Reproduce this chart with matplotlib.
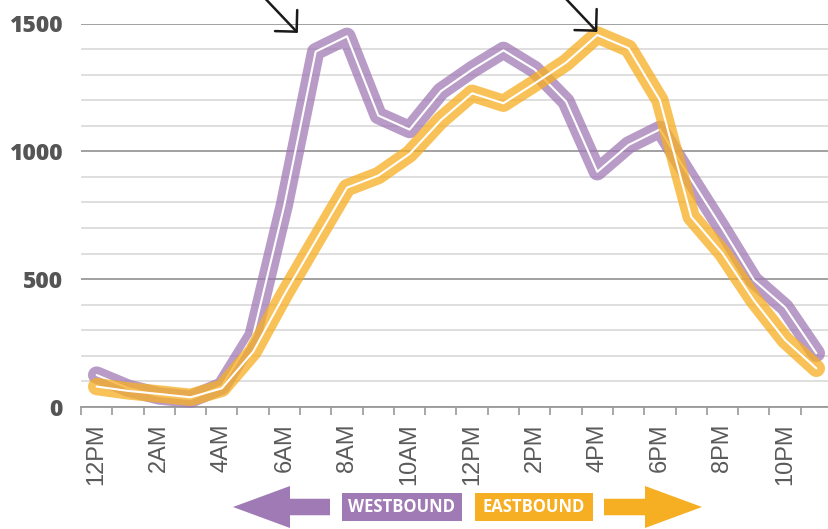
import numpy as np
import matplotlib
matplotlib.use("Agg")
import matplotlib.pyplot as plt
from matplotlib.patches import FancyArrow, Rectangle
from matplotlib.ticker import MultipleLocator

# Hourly traffic counts, midnight through 11 PM
hours = list(range(24))
hour_labels = ["12PM", "2AM", "4AM", "6AM", "8AM", "10AM",
               "12PM", "2PM", "4PM", "6PM", "8PM", "10PM"]
westbound = [125, 74, 43, 31, 82, 280, 790, 1390, 1450, 1140, 1085, 1235,
             1320, 1395, 1320, 1195, 920, 1025, 1086, 890, 697, 497, 390, 210]
eastbound = [80, 63, 51, 38, 73, 216, 440, 650, 858, 905, 990, 1122,
             1227, 1188, 1266, 1347, 1455, 1403, 1200, 744, 601, 418, 262, 151]

# Peaks pointed out by arrows: (hour, count)
peak_west = (6.43, 1463)
peak_east = (16.0, 1467)

PURPLE = "#a07ab4"
ORANGE = "#f6ae22"
W, H = 829, 529

fig = plt.figure(figsize=(W / 100, H / 100), dpi=100)
fig.patch.set_facecolor("white")

left, right, bottom, top = 81, 832, 407, 23.5
ax = fig.add_axes([left / W, (H - bottom) / H, (right - left) / W, (bottom - top) / H])
ax.set_xlim(-0.5, 23.5)
ax.set_ylim(0, 1500)

# gridlines
ax.yaxis.set_major_locator(MultipleLocator(500))
ax.yaxis.set_minor_locator(MultipleLocator(100))
ax.grid(which="minor", axis="y", color="#dcdcdc", lw=1.3, zorder=0)
ax.grid(which="major", axis="y", color="#9a9a9a", lw=1.3, zorder=0.5)
ax.set_axisbelow(True)
for s in ["left", "right", "top"]:
    ax.spines[s].set_visible(False)
ax.spines["bottom"].set_color("#9a9a9a")
ax.spines["bottom"].set_linewidth(1.3)

ax.tick_params(axis="y", which="both", length=0, pad=13)
ax.set_yticks([0, 500, 1000, 1500])
ax.set_yticklabels(["0", "500", "1000", "1500"], fontfamily="Open Sans",
                   fontweight=800, fontsize=16.5, color="#555555")

ax.set_xticks(hours[::2])
ax.set_xticklabels(hour_labels, rotation=90,
                   fontfamily=["Liberation Sans Narrow", "Liberation Sans"],
                   fontsize=17, color="#5a5a5a", va="top", ha="center")
ax.set_xticks(np.arange(-0.5, 24, 1), minor=True)
ax.tick_params(axis="x", which="major", length=0, pad=12)
ax.tick_params(axis="x", which="minor", length=6, width=1.2, color="#9a9a9a")

# traffic lines: thick translucent band with a thin white core
lw_band = 12.5
lw_core = 1.5
ax.plot(hours, westbound, color=PURPLE, alpha=0.75, lw=lw_band,
        solid_capstyle="round", solid_joinstyle="round", zorder=3, clip_on=False)
ax.plot(hours, westbound, color="white", lw=lw_core,
        solid_capstyle="round", solid_joinstyle="round", zorder=3.1, clip_on=False)
ax.plot(hours, eastbound, color=ORANGE, alpha=0.75, lw=lw_band,
        solid_capstyle="round", solid_joinstyle="round", zorder=4, clip_on=False)
ax.plot(hours, eastbound, color="white", lw=lw_core,
        solid_capstyle="round", solid_joinstyle="round", zorder=4.1, clip_on=False)

# arrows pointing at the two peaks
arrow_kw = dict(arrowstyle="->,head_length=1.1,head_width=1.1", lw=1.8,
                color="#1a1a1a", shrinkA=0, shrinkB=0)
ax.annotate("", xy=peak_west, xytext=(peak_west[0] - 1.55, peak_west[1] + 200),
            arrowprops=arrow_kw, annotation_clip=False, zorder=6)
ax.annotate("", xy=peak_east, xytext=(peak_east[0] - 1.55, peak_east[1] + 200),
            arrowprops=arrow_kw, annotation_clip=False, zorder=6)

# direction key below the chart
key = fig.add_axes([0, 0, 1, 1], facecolor="none")
key.set_xlim(0, W)
key.set_ylim(H, 0)
key.axis("off")
yc = 507
key.add_patch(FancyArrow(330, yc, -97, 0, width=16.5, head_width=42, head_length=57,
                         length_includes_head=True, color=PURPLE, lw=0))
key.add_patch(FancyArrow(604, yc, 98, 0, width=16.5, head_width=42, head_length=57,
                         length_includes_head=True, color=ORANGE, lw=0))
key.add_patch(Rectangle((342, 493), 120, 28, color=PURPLE, lw=0))
key.add_patch(Rectangle((475, 493), 118, 28, color=ORANGE, lw=0))
key.text(402, yc, "WESTBOUND", color="white", fontfamily="Open Sans",
         fontweight="bold", fontsize=12, ha="center", va="center")
key.text(534, yc, "EASTBOUND", color="white", fontfamily="Open Sans",
         fontweight="bold", fontsize=12, ha="center", va="center")

fig.savefig("out.png", dpi=100)
